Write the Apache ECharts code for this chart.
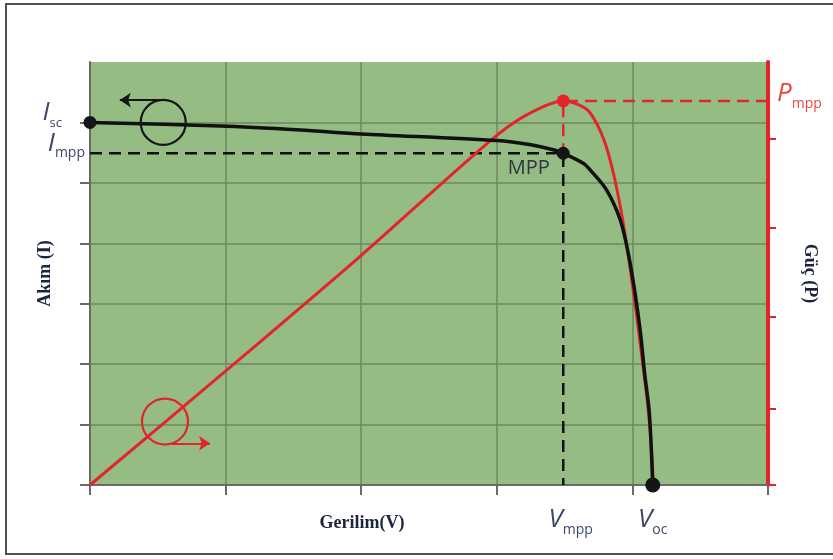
<!DOCTYPE html>
<html>
<head>
<meta charset="utf-8">
<script src="https://cdn.jsdelivr.net/npm/echarts@6/dist/echarts.min.js"></script>
<style>
html, body { margin: 0; padding: 0; background: #fff; }
#chart { width: 833px; height: 559px; }
</style>
</head>
<body>
<div id="chart"></div>
<script>
// eksen birimleri: gerilim ve akım ızgara birimi, güç yüzde
const voltageTicks = [0, 1, 2, 3, 4, 5];
const currentTicks = [0, 1, 2, 3, 4, 5, 6];
const powerTicks = [0, 18, 39.7, 60.8, 81.8];
const P_MAX = 100;

// karakteristik noktalar
const Isc = 6.0;
const Impp = 5.49;
const Vmpp = 3.49;
const Voc = 4.15;
const Pmpp = 90.8;

// I-V eğrisi (siyah)
const ivCurve = [
  [0, 6.0], [0.96, 5.94], [1.55, 5.875], [2.0, 5.81], [3.0, 5.70],
  [3.25, 5.63], [3.43, 5.54], [3.49, 5.49], [3.64, 5.32], [3.69, 5.21],
  [3.81, 4.88], [3.91, 4.39], [3.97, 3.83], [4.02, 3.17], [4.06, 2.51],
  [4.09, 1.85], [4.125, 1.19], [4.15, 0]
];

// P-V eğrisi (kırmızı)
const pvCurve = [
  [0, 0], [1.01, 27.2], [1.99, 54.0], [2.96, 81.6], [3.22, 87.5],
  [3.49, 90.8], [3.61, 89.8], [3.69, 87.9], [3.79, 81.6], [3.86, 73.7],
  [3.92, 64.2], [3.96, 56.3], [3.995, 48.5], [4.03, 40.4], [4.067, 31.0],
  [4.104, 21.5], [4.133, 12.0], [4.155, 0]
];

// yön halkaları: merkez ve ok (başlangıç, bitiş)
const currentLoop = [0.54, 6.0];
const currentArrow = [[0.54, 6.37], [0.22, 6.37]];
const powerLoop = [0.553, 15.0];
const powerArrow = [[0.60, 9.86], [0.885, 9.86]];

const labelColor = '#3b4769';
const redColor = '#e3242b';

const myChart = echarts.init(document.getElementById('chart'));

const subRich = (color) => ({
  v: { fontFamily: 'Open Sans', fontStyle: 'italic', fontSize: 26, color: color, verticalAlign: 'bottom', lineHeight: 28 },
  vp: { fontFamily: 'Open Sans', fontStyle: 'italic', fontSize: 26, color: color, verticalAlign: 'bottom', lineHeight: 28, padding: [0, 0, 0, 15] },
  s: { fontFamily: 'Open Sans', fontSize: 14, color: color, verticalAlign: 'bottom', lineHeight: 16, padding: [0, 0, -4, 0] },
  sr: { fontFamily: 'Open Sans', fontSize: 13, color: color, verticalAlign: 'bottom', lineHeight: 16, padding: [0, 23, -4, 0] }
});

const nameStyle = { fontFamily: 'Liberation Serif', fontWeight: 'bold', fontSize: 18, color: '#1c2440' };

const chartOption = {
  animation: false,
  graphic: [{
    type: 'rect',
    silent: true,
    z: -10,
    shape: { x: 6, y: 4, width: 850, height: 550 },
    style: { fill: 'none', stroke: '#505050', lineWidth: 2 }
  }],
  grid: {
    left: 90,
    right: 65,
    top: 62,
    bottom: 74,
    outerBoundsMode: 'none',
    show: true,
    backgroundColor: '#94bc83',
    borderWidth: 0
  },
  xAxis: {
    type: 'value',
    min: 0,
    max: 5,
    interval: 1,
    axisLine: { show: true, lineStyle: { color: '#6a6a6a', width: 2 } },
    axisTick: { show: true, length: 10, customValues: voltageTicks, lineStyle: { color: '#6a6a6a', width: 2 } },
    axisLabel: {
      customValues: [Vmpp, Voc],
      margin: 20,
      formatter: (val) => Math.abs(val - Vmpp) < 1e-6 ? '{vp|V}{s|mpp}' : '{v|V}{s|oc}',
      rich: subRich(labelColor)
    },
    splitLine: { show: true, lineStyle: { color: '#6b8a60', width: 1.5 } },
    name: 'Gerilim(V)',
    nameLocation: 'middle',
    nameGap: 29,
    nameMoveOverlap: false,
    nameTextStyle: Object.assign({ padding: [0, 134, 0, 0] }, nameStyle)
  },
  yAxis: [{
    type: 'value',
    min: 0,
    max: 7,
    interval: 1,
    axisLine: { show: true, lineStyle: { color: '#6a6a6a', width: 2 } },
    axisTick: { show: true, length: 10, customValues: currentTicks, lineStyle: { color: '#6a6a6a', width: 2 } },
    axisLabel: {
      customValues: [Isc, Impp],
      margin: 5,
      padding: [0, 0, 22, 0],
      formatter: (val) => Math.abs(val - Isc) < 1e-6 ? '{v|I}{sr|sc}' : '{v|I}{s|mpp}',
      rich: subRich(labelColor)
    },
    splitLine: { show: true, lineStyle: { color: '#6b8a60', width: 1.5 } },
    name: 'Akım (I)',
    nameLocation: 'middle',
    nameRotate: 90,
    nameGap: 36,
    nameMoveOverlap: false,
    nameTextStyle: nameStyle
  }, {
    type: 'value',
    position: 'right',
    min: 0,
    max: P_MAX,
    axisLine: { show: true, lineStyle: { color: redColor, width: 4 } },
    axisTick: { show: true, length: 8, customValues: powerTicks, lineStyle: { color: redColor, width: 2 } },
    axisLabel: {
      customValues: [Pmpp],
      margin: 9,
      padding: [0, 0, 16, 0],
      formatter: () => '{v|P}{s|mpp}',
      rich: subRich('#e8473f')
    },
    splitLine: { show: false },
    name: 'Güç (P)',
    nameLocation: 'middle',
    nameRotate: -90,
    nameGap: 33,
    nameMoveOverlap: false,
    nameTextStyle: nameStyle
  }],
  series: [{
    name: 'mpp-akim',
    type: 'line',
    yAxisIndex: 0,
    data: [[0, Impp], [Vmpp, Impp], [Vmpp, 0]],
    symbol: 'none',
    lineStyle: { color: '#111', width: 2.5, type: [12, 7] },
    z: 2
  }, {
    name: 'mpp-guc',
    type: 'line',
    yAxisIndex: 1,
    data: [[5, Pmpp], [Vmpp, Pmpp], [Vmpp, Impp / 7 * P_MAX]],
    symbol: 'none',
    lineStyle: { color: redColor, width: 2.5, type: [12, 7] },
    z: 2
  }, {
    name: 'Güç',
    type: 'line',
    yAxisIndex: 1,
    data: pvCurve,
    smooth: 0.3,
    symbol: 'none',
    lineStyle: { color: redColor, width: 3 },
    z: 3
  }, {
    name: 'Akım',
    type: 'line',
    yAxisIndex: 0,
    data: ivCurve,
    smooth: 0.3,
    symbol: 'none',
    lineStyle: { color: '#111', width: 3.5 },
    z: 4
  }, {
    name: 'nokta-akim',
    type: 'scatter',
    yAxisIndex: 0,
    symbolSize: 13,
    itemStyle: { color: '#151515', opacity: 1 },
    data: [
      [0, Isc],
      {
        value: [Vmpp, Impp],
        label: {
          show: true,
          position: 'left',
          offset: [-2, 15],
          formatter: 'MPP',
          fontFamily: 'Open Sans',
          fontSize: 20,
          color: '#2f3440'
        }
      },
      { value: [Voc, 0], symbolSize: 15 }
    ],
    z: 6
  }, {
    name: 'nokta-guc',
    type: 'scatter',
    yAxisIndex: 1,
    symbolSize: 13,
    itemStyle: { color: redColor, opacity: 1 },
    data: [[Vmpp, Pmpp]],
    z: 6
  }, {
    name: 'halka-akim',
    type: 'scatter',
    yAxisIndex: 0,
    symbol: 'circle',
    symbolSize: 45,
    itemStyle: { color: 'rgba(0,0,0,0)', borderColor: '#151515', borderWidth: 2.2, opacity: 1 },
    data: [currentLoop],
    markLine: {
      silent: true,
      symbol: ['none', 'arrow'],
      symbolSize: 11,
      label: { show: false },
      lineStyle: { color: '#151515', width: 2.2, type: 'solid' },
      data: [[{ coord: currentArrow[0] }, { coord: currentArrow[1] }]]
    },
    z: 5
  }, {
    name: 'halka-guc',
    type: 'scatter',
    yAxisIndex: 1,
    symbol: 'circle',
    symbolSize: 46,
    itemStyle: { color: 'rgba(0,0,0,0)', borderColor: redColor, borderWidth: 2.2, opacity: 1 },
    data: [powerLoop],
    markLine: {
      silent: true,
      symbol: ['none', 'arrow'],
      symbolSize: 11,
      label: { show: false },
      lineStyle: { color: redColor, width: 2.2, type: 'solid' },
      data: [[{ coord: powerArrow[0] }, { coord: powerArrow[1] }]]
    },
    z: 5
  }]
};

myChart.setOption(chartOption);
</script>
</body>
</html>
